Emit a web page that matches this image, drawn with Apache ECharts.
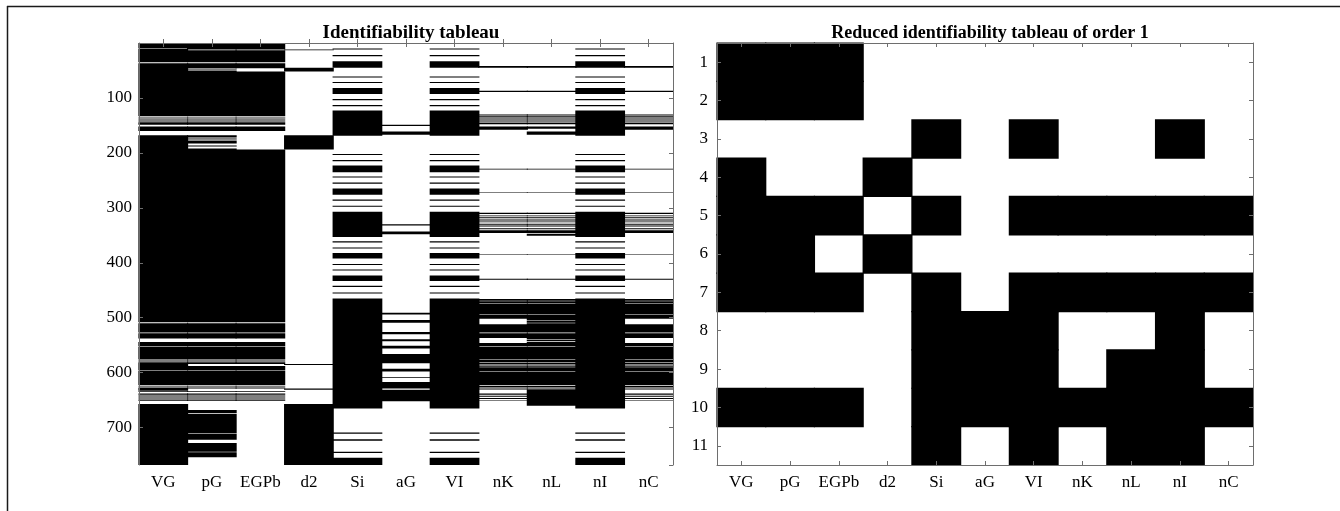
<!DOCTYPE html>
<html>
<head>
<meta charset="utf-8">
<script src="https://cdn.jsdelivr.net/npm/echarts@6/dist/echarts.min.js"></script>
<style>
html,body{margin:0;padding:0;background:#fff;}
#chart{width:1340px;height:511px;}
</style>
</head>
<body>
<div id="chart"></div>
<script>
// ---------------- DATA ----------------
const params = ['VG','pG','EGPb','d2','Si','aG','VI','nK','nL','nI','nC'];
const nRows = 768;
const leftTicks = [100,200,300,400,500,600,700];
const reducedLabels = ['1','2','3','4','5','6','7','8','9','10','11'];

// Left tableau: black runs per column, [firstRow, lastRow]
const runsVG = [[0,9],[11,34],[37,132],[134,134],[136,136],[138,138],[140,140],[142,142],[144,148],[152,159],[168,507],[510,526],[528,537],[544,551],[553,575],[577,577],[579,579],[581,594],[596,622],[624,624],[626,626],[628,632],[634,634],[637,637],[639,639],[641,641],[643,643],[645,645],[647,647],[649,650],[657,767]];
const runsPG = [[0,11],[13,34],[37,45],[47,47],[49,49],[51,132],[134,134],[136,136],[138,138],[140,140],[142,142],[144,148],[152,159],[168,170],[172,172],[174,174],[176,176],[178,182],[186,186],[188,188],[192,507],[510,526],[528,537],[544,551],[553,575],[577,577],[579,579],[581,583],[588,594],[596,622],[624,624],[626,626],[628,628],[634,634],[637,637],[639,639],[641,641],[643,643],[645,645],[647,647],[649,650],[668,673],[675,709],[711,721],[728,743],[745,753]];
const runsEGPb = [[0,11],[13,34],[37,45],[52,132],[134,134],[136,136],[138,138],[140,140],[142,142],[144,148],[152,159],[194,507],[510,526],[528,537],[544,551],[553,575],[577,577],[579,579],[581,583],[588,594],[596,622],[624,624],[626,626],[628,628],[634,634],[637,637],[639,639],[641,641],[643,643],[645,645],[647,647],[649,650]];
const runsD2 = [[12,12],[45,51],[168,193],[584,585],[629,630],[657,767]];
const runsSi = [[10,11],[22,23],[33,44],[61,62],[71,72],[82,92],[102,103],[113,114],[123,168],[202,203],[213,214],[223,234],[243,244],[254,255],[265,275],[285,286],[296,297],[307,352],[361,362],[372,373],[382,391],[402,403],[412,413],[423,432],[442,443],[454,455],[465,664],[709,710],[721,723],[744,745],[755,767]];
const runsAG = [[149,150],[161,166],[330,331],[343,347],[491,493],[504,508],[526,529],[539,542],[551,555],[566,582],[593,597],[608,608],[617,628],[631,651]];
const runsVI = [[10,11],[22,23],[33,44],[61,62],[71,72],[82,92],[102,103],[113,114],[123,168],[202,203],[213,214],[223,234],[243,244],[254,255],[265,275],[285,286],[296,297],[307,352],[361,362],[372,373],[382,391],[402,403],[412,413],[423,432],[442,443],[454,455],[465,664],[709,710],[721,723],[744,745],[755,767]];
const runsNK = [[42,44],[87,88],[129,129],[131,131],[133,133],[135,135],[137,137],[139,139],[141,141],[143,143],[145,147],[152,157],[229,229],[272,272],[309,310],[313,313],[316,317],[320,320],[323,324],[327,327],[330,331],[334,334],[337,338],[341,345],[385,385],[429,430],[466,468],[470,472],[474,492],[494,501],[512,526],[528,536],[546,551],[553,575],[577,580],[582,584],[587,588],[590,596],[598,622],[624,625],[627,628],[630,630],[638,639],[642,643],[646,647],[650,650]];
const runsNL = [[42,44],[87,88],[129,129],[131,131],[133,133],[135,135],[137,137],[139,139],[141,141],[143,143],[145,147],[152,155],[161,166],[229,229],[272,272],[309,310],[313,313],[316,317],[320,320],[323,324],[327,327],[330,331],[334,334],[337,338],[341,345],[347,350],[385,385],[429,430],[466,468],[470,472],[474,492],[494,503],[505,508],[510,526],[528,538],[540,542],[544,551],[553,575],[577,580],[582,584],[587,588],[590,596],[598,622],[624,625],[627,628],[630,659]];
const runsNI = [[10,11],[22,23],[33,44],[61,62],[71,72],[82,92],[102,103],[113,114],[123,168],[202,203],[213,214],[223,234],[243,244],[254,255],[265,275],[285,286],[296,297],[307,352],[361,362],[372,373],[382,391],[402,403],[412,413],[423,432],[442,443],[454,455],[465,664],[709,710],[721,723],[744,745],[755,767]];
const runsNC = [[42,44],[87,88],[129,129],[131,131],[133,133],[135,135],[137,137],[139,139],[141,141],[143,143],[145,147],[152,157],[229,229],[272,272],[309,310],[313,313],[316,317],[320,320],[323,324],[327,327],[330,331],[334,334],[337,338],[341,345],[385,385],[429,430],[466,468],[470,472],[474,492],[494,501],[512,526],[528,536],[546,551],[553,575],[577,580],[582,584],[587,588],[590,596],[598,622],[624,625],[627,628],[630,630],[638,639],[642,643],[646,647],[650,650]];

// Reduced tableau (rows 1..11, columns as params), 1 = black
const reduced = [
  [1,1,1,0,0,0,0,0,0,0,0],
  [1,1,1,0,0,0,0,0,0,0,0],
  [0,0,0,0,1,0,1,0,0,1,0],
  [1,0,0,1,0,0,0,0,0,0,0],
  [1,1,1,0,1,0,1,1,1,1,1],
  [1,1,0,1,0,0,0,0,0,0,0],
  [1,1,1,0,1,0,1,1,1,1,1],
  [0,0,0,0,1,1,1,0,0,1,0],
  [0,0,0,0,1,1,1,0,1,1,0],
  [1,1,1,0,1,1,1,1,1,1,1],
  [0,0,0,0,1,0,1,0,1,1,0]
];

// ---------------- BUILD ----------------
const columnRuns = [runsVG, runsPG, runsEGPb, runsD2, runsSi, runsAG, runsVI, runsNK, runsNL, runsNI, runsNC];
const leftData = [];
columnRuns.forEach((runs, c) => runs.forEach(r => leftData.push([c, r[0], r[1] + 1])));
// white cells first, black cells on top
const rightData = [];
[0, 1].forEach(val => reduced.forEach((row, r) => row.forEach((v, c) => { if (v === val) rightData.push([c, r, v]); })));

const FONT = 'Liberation Serif';
const AXC = '#6e6e6e';
const L = {left: 139, top: 43, width: 534, height: 422};
const R = {left: 717, top: 43, width: 536, height: 422};

function catX(gridIndex, show) {
  return {
    type: 'category', gridIndex, data: params, position: show ? 'bottom' : 'top', z: 10,
    axisLine: {show: true, lineStyle: {color: AXC, width: 1}},
    axisTick: {show: true, inside: true, alignWithLabel: true, interval: 0, length: 4, lineStyle: {color: AXC}},
    axisLabel: {show: show, interval: 0, hideOverlap: false, color: '#000', fontFamily: FONT, fontSize: 17, margin: 9},
    splitLine: {show: false}
  };
}

const chart = echarts.init(document.getElementById('chart'), null, {renderer: 'canvas'});
chart.setOption({
  backgroundColor: '#fff',
  animation: false,
  title: [
    {text: 'Identifiability tableau', left: L.left + L.width / 2, top: 19, textAlign: 'center',
     textStyle: {fontFamily: FONT, fontWeight: 'bold', fontSize: 19, color: '#000'}},
    {text: 'Reduced identifiability tableau of order 1', left: R.left + R.width / 2, top: 19, textAlign: 'center',
     textStyle: {fontFamily: FONT, fontWeight: 'bold', fontSize: 18, color: '#000'}}
  ],
  grid: [
    Object.assign({containLabel: false}, L),
    Object.assign({containLabel: false}, R)
  ],
  xAxis: [catX(0, true), catX(0, false), catX(1, true), catX(1, false)],
  yAxis: [
    {type: 'value', gridIndex: 0, inverse: true, min: 0, max: nRows, interval: 100, position: 'left', z: 10,
     axisLine: {show: true, lineStyle: {color: AXC}},
     axisTick: {show: true, inside: true, length: 4, lineStyle: {color: AXC}},
     axisLabel: {color: '#000', fontFamily: FONT, fontSize: 17, margin: 7, showMinLabel: false, showMaxLabel: false,
       formatter: v => leftTicks.indexOf(v) >= 0 ? String(v) : ''},
     splitLine: {show: false}},
    {type: 'value', gridIndex: 0, inverse: true, min: 0, max: nRows, interval: 100, position: 'right', z: 10,
     axisLine: {show: true, lineStyle: {color: AXC}},
     axisTick: {show: true, inside: true, length: 4, lineStyle: {color: AXC}},
     axisLabel: {show: false}, splitLine: {show: false}},
    {type: 'category', gridIndex: 1, inverse: true, data: reducedLabels, position: 'left', z: 10,
     axisLine: {show: true, lineStyle: {color: AXC}},
     axisTick: {show: true, inside: true, alignWithLabel: true, interval: 0, length: 4, lineStyle: {color: AXC}},
     axisLabel: {interval: 0, color: '#000', fontFamily: FONT, fontSize: 17, margin: 9},
     splitLine: {show: false}},
    {type: 'category', gridIndex: 1, inverse: true, data: reducedLabels, position: 'right', z: 10,
     axisLine: {show: true, lineStyle: {color: AXC}},
     axisTick: {show: true, inside: true, alignWithLabel: true, interval: 0, length: 4, lineStyle: {color: AXC}},
     axisLabel: {show: false}, splitLine: {show: false}}
  ],
  series: [
    {
      type: 'custom', xAxisIndex: 0, yAxisIndex: 0, data: leftData,
      encode: {x: 0, y: [1, 2]},
      renderItem: function (params, api) {
        const c = api.value(0);
        const p1 = api.coord([c, api.value(1)]);
        const p2 = api.coord([c, api.value(2)]);
        const w = api.size([1, 0])[0];
        // slight horizontal overlap so neighbouring columns join without seams
        return {type: 'rect',
          shape: {x: p1[0] - w / 2 - 0.6, y: Math.min(p1[1], p2[1]), width: w + 1.2, height: Math.abs(p2[1] - p1[1])},
          style: {fill: '#000'}};
      }
    },
    {
      type: 'custom', xAxisIndex: 2, yAxisIndex: 2, data: rightData,
      encode: {x: 0, y: 1},
      renderItem: function (params, api) {
        const p = api.coord([api.value(0), api.value(1)]);
        const s = api.size([1, 1]);
        const black = api.value(2) === 1;
        const pad = black ? 0.6 : 0;
        return {type: 'rect',
          shape: {x: p[0] - s[0] / 2 - pad, y: p[1] - s[1] / 2 - pad, width: s[0] + 2 * pad, height: s[1] + 2 * pad},
          style: {fill: black ? '#000' : '#fff'}};
      }
    }
  ],
  graphic: [
    {type: 'line', shape: {x1: 7, y1: 6.5, x2: 1340, y2: 6.5}, style: {stroke: '#1a1a1a', lineWidth: 1.5}},
    {type: 'line', shape: {x1: 7.5, y1: 6, x2: 7.5, y2: 511}, style: {stroke: '#1a1a1a', lineWidth: 1.5}}
  ]
});
</script>
</body>
</html>
